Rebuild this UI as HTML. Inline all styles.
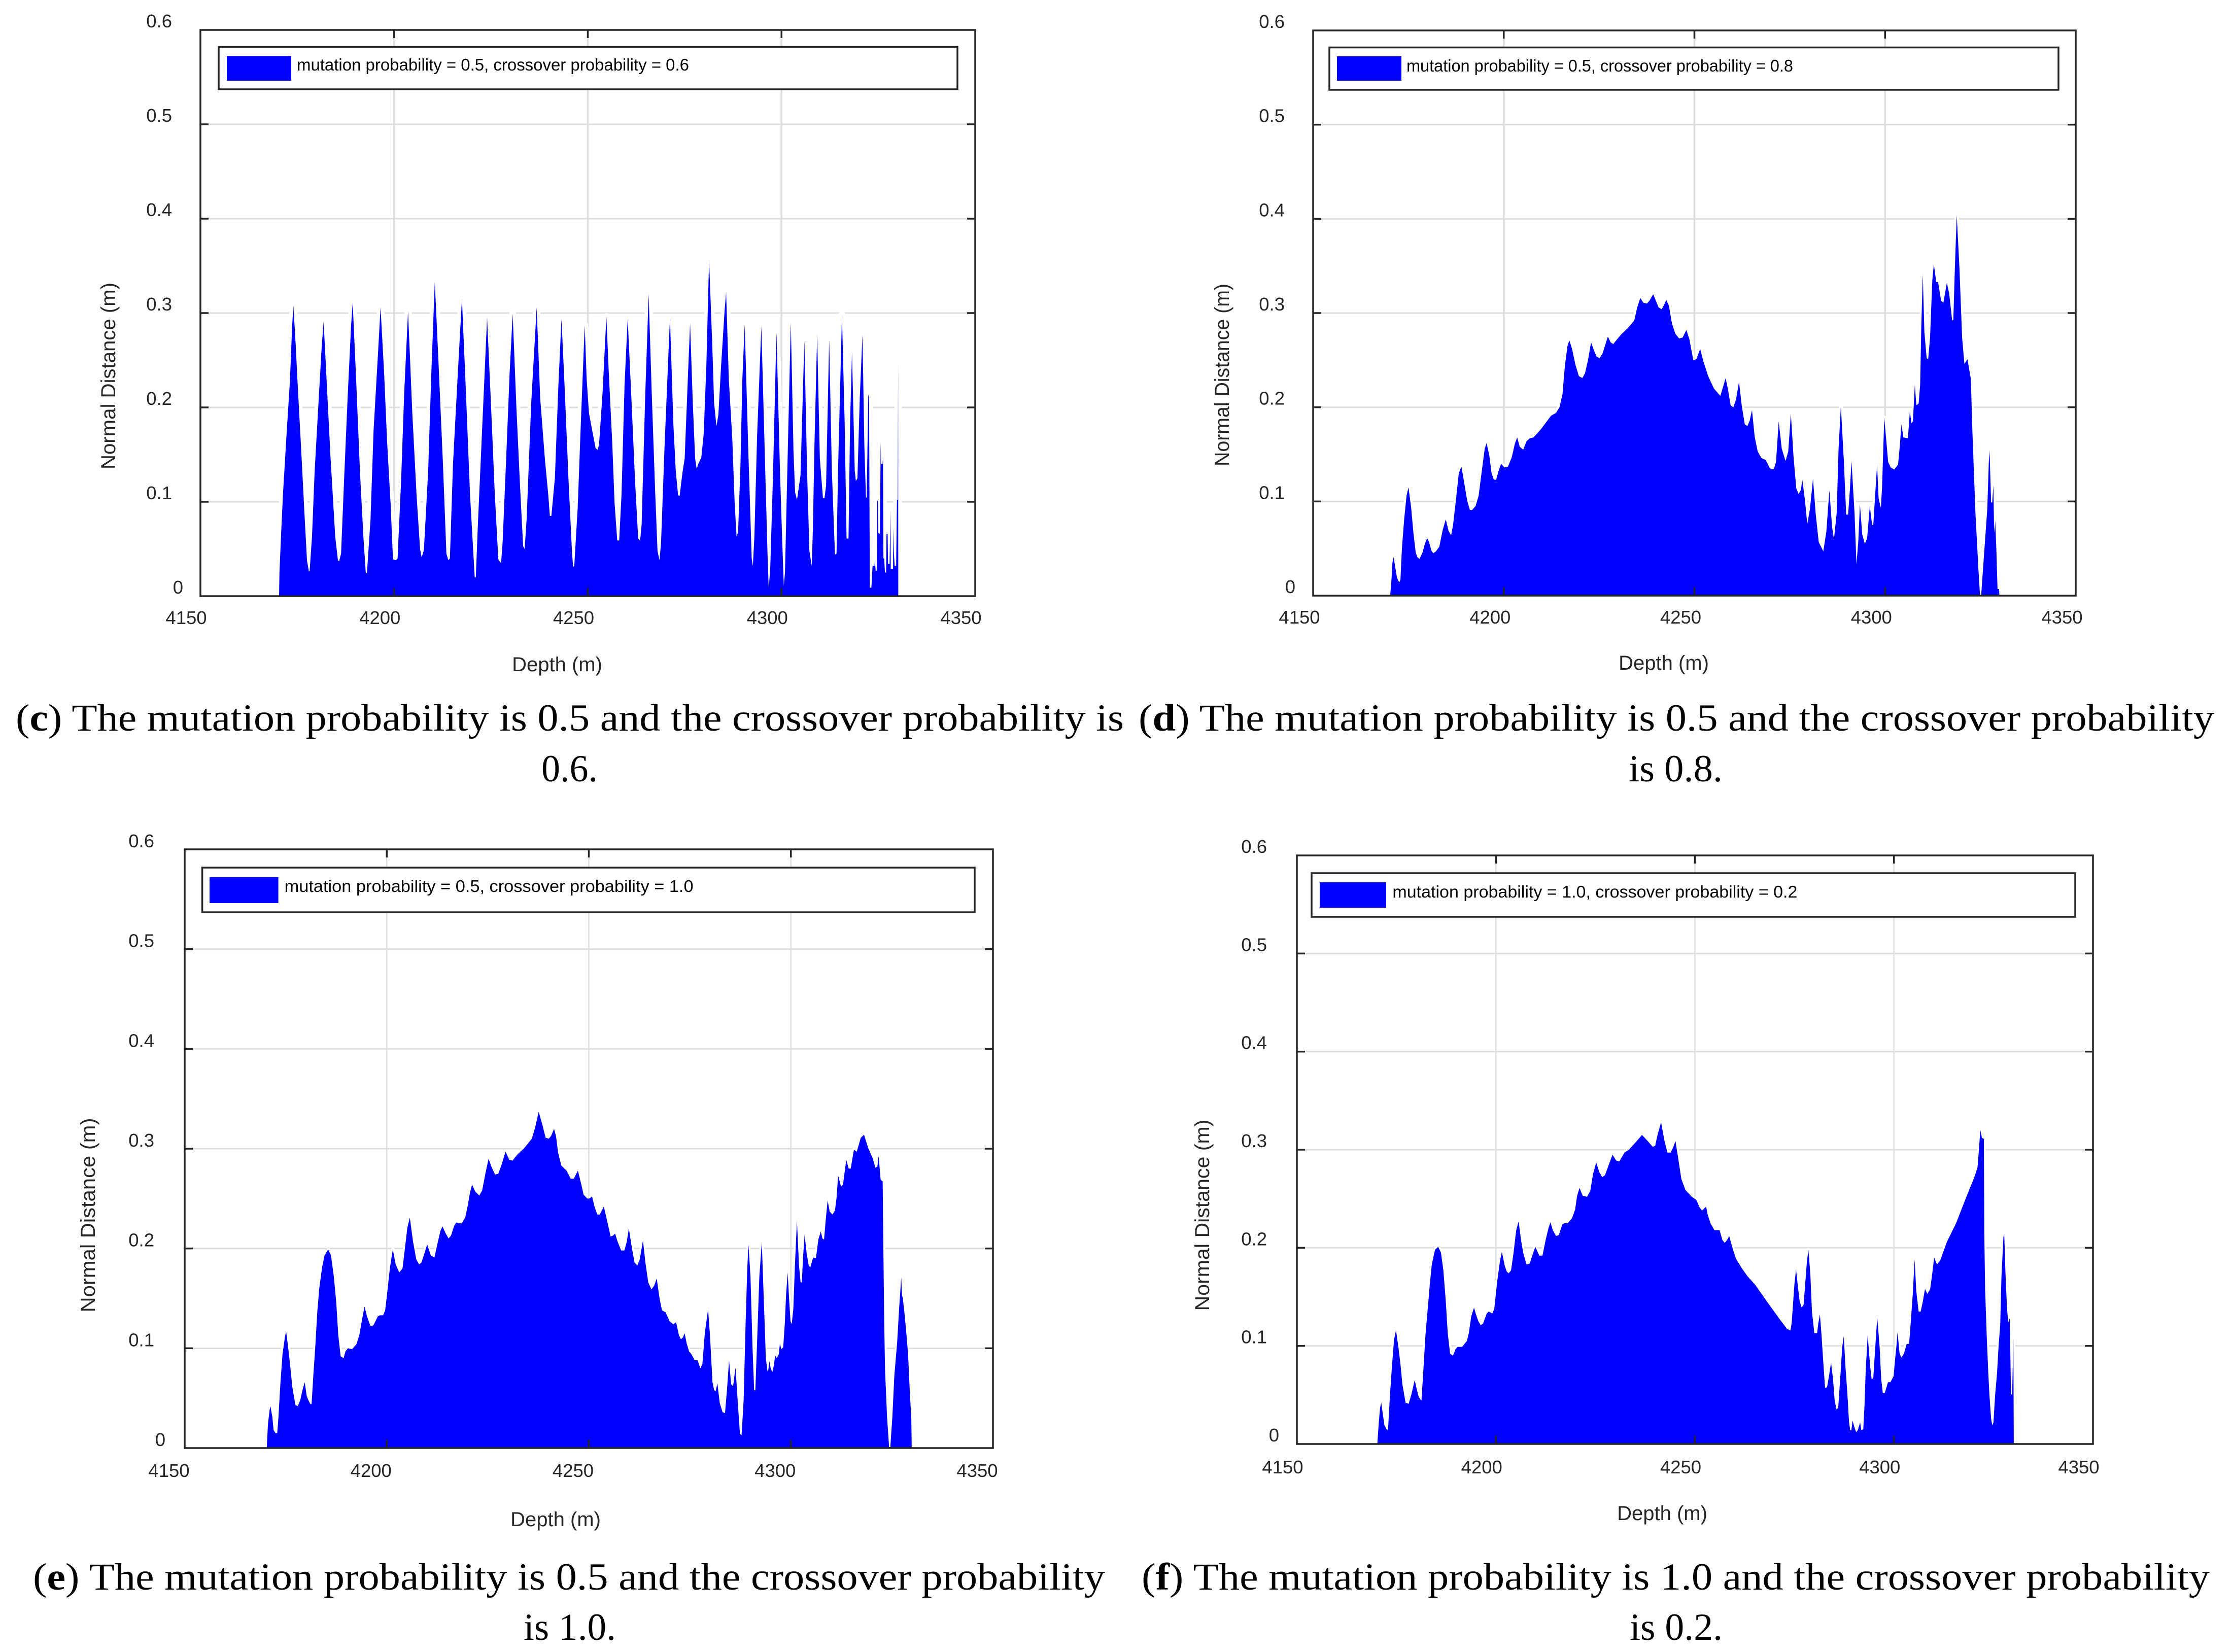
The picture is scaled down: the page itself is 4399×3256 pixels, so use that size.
<!DOCTYPE html>
<html lang="en">
<head>
<meta charset="utf-8">
<title>Normal distance vs depth for mutation and crossover probabilities</title>
<style>
html,body{margin:0;padding:0;background:#fff;}
svg{display:block;}
.tick{font-family:"Liberation Sans",Arial,sans-serif;font-size:36.5px;fill:#262626;}
.axis-title{font-family:"Liberation Sans",Arial,sans-serif;font-size:40px;fill:#262626;}
.legend-text{font-family:"Liberation Sans",Arial,sans-serif;font-size:33px;fill:#000;}
.caption{font-family:"Liberation Serif",serif;font-size:75px;fill:#000;}
.frame{fill:none;stroke:#262626;stroke-width:3.5;}
.legend-box{fill:#fff;stroke:#262626;stroke-width:3.5;}
</style>
</head>
<body>
<svg xmlns="http://www.w3.org/2000/svg" width="4399" height="3256" viewBox="0 0 4399 3256">
<rect x="0" y="0" width="4399" height="3256" fill="#fff"/>

<g id="panel-c">
  <g class="grid-layer"></g>
  <g class="area-layer"></g>
  <g>
    <rect class="legend-box" x="431" y="92.5" width="1456" height="83.5"/>
    <rect x="447" y="110.5" width="127" height="48.5" fill="#0000ff"/>
    <text class="legend-text" x="585" y="139" textLength="773" lengthAdjust="spacingAndGlyphs">mutation probability = 0.5, crossover probability = 0.6</text>
  </g>
  <g class="frame-layer"></g>
  <text class="axis-title" x="1098" y="1323" text-anchor="middle">Depth (m)</text>
  <text class="axis-title" transform="translate(227,741) rotate(-90)" text-anchor="middle" textLength="368" lengthAdjust="spacingAndGlyphs">Normal Distance (m)</text>
  <text class="caption" x="31" y="1440" textLength="2184" lengthAdjust="spacingAndGlyphs">(<tspan font-weight="bold">c</tspan>) The mutation probability is 0.5 and the crossover probability is</text>
  <text class="caption" x="1067" y="1540" textLength="111" lengthAdjust="spacingAndGlyphs">0.6.</text>
</g>

<g id="panel-d">
  <g class="grid-layer"></g>
  <g class="area-layer"></g>
  <g>
    <rect class="legend-box" x="2620" y="93.5" width="1437" height="83.5"/>
    <rect x="2635" y="111" width="127" height="48" fill="#0000ff"/>
    <text class="legend-text" x="2772" y="141" textLength="762" lengthAdjust="spacingAndGlyphs">mutation probability = 0.5, crossover probability = 0.8</text>
  </g>
  <g class="frame-layer"></g>
  <text class="axis-title" x="3279" y="1320" text-anchor="middle">Depth (m)</text>
  <text class="axis-title" transform="translate(2422,739) rotate(-90)" text-anchor="middle" textLength="360" lengthAdjust="spacingAndGlyphs">Normal Distance (m)</text>
  <text class="caption" x="2244" y="1440" textLength="2120" lengthAdjust="spacingAndGlyphs">(<tspan font-weight="bold">d</tspan>) The mutation probability is 0.5 and the crossover probability</text>
  <text class="caption" x="3210" y="1540" textLength="185" lengthAdjust="spacingAndGlyphs">is 0.8.</text>
</g>

<g id="panel-e">
  <g class="grid-layer"></g>
  <g class="area-layer"></g>
  <g>
    <rect class="legend-box" x="398.6" y="1710" width="1522.4" height="88"/>
    <rect x="413" y="1728.5" width="135.6" height="51.5" fill="#0000ff"/>
    <text class="legend-text" x="560.6" y="1758" textLength="806" lengthAdjust="spacingAndGlyphs">mutation probability = 0.5, crossover probability = 1.0</text>
  </g>
  <g class="frame-layer"></g>
  <text class="axis-title" x="1095" y="3008" text-anchor="middle">Depth (m)</text>
  <text class="axis-title" transform="translate(187,2395) rotate(-90)" text-anchor="middle" textLength="383" lengthAdjust="spacingAndGlyphs">Normal Distance (m)</text>
  <text class="caption" x="65" y="3133" textLength="2113" lengthAdjust="spacingAndGlyphs">(<tspan font-weight="bold">e</tspan>) The mutation probability is 0.5 and the crossover probability</text>
  <text class="caption" x="1032" y="3232" textLength="182" lengthAdjust="spacingAndGlyphs">is 1.0.</text>
</g>

<g id="panel-f">
  <g class="grid-layer"></g>
  <g class="area-layer"></g>
  <g>
    <rect class="legend-box" x="2585" y="1721" width="1505" height="86"/>
    <rect x="2601" y="1739" width="131" height="50" fill="#0000ff"/>
    <text class="legend-text" x="2744.4" y="1769" textLength="798" lengthAdjust="spacingAndGlyphs">mutation probability = 1.0, crossover probability = 0.2</text>
  </g>
  <g class="frame-layer"></g>
  <text class="axis-title" x="3276" y="2996" text-anchor="middle">Depth (m)</text>
  <text class="axis-title" transform="translate(2383,2395) rotate(-90)" text-anchor="middle" textLength="377" lengthAdjust="spacingAndGlyphs">Normal Distance (m)</text>
  <text class="caption" x="2250" y="3133" textLength="2105" lengthAdjust="spacingAndGlyphs">(<tspan font-weight="bold">f</tspan>) The mutation probability is 1.0 and the crossover probability</text>
  <text class="caption" x="3212" y="3232" textLength="183" lengthAdjust="spacingAndGlyphs">is 0.2.</text>
</g>
</svg>

<script>
const xTickValues = [4150, 4200, 4250, 4300, 4350];
const xTickLabels = ['4150', '4200', '4250', '4300', '4350'];
const yTickValues = [0, 0.1, 0.2, 0.3, 0.4, 0.5, 0.6];
const yTickLabels = ['0', '0.1', '0.2', '0.3', '0.4', '0.5', '0.6'];

const depthC = [4170.3,4170.4,4170.8,4171.3,4172.2,4173.1,4173.7,4174.0,4174.6,4175.1,4176.0,4176.9,4177.5,4178.0,4178.2,4178.8,4179.5,4180.4,4181.3,4181.8,4182.5,4183.6,4184.8,4185.5,4185.8,4186.3,4187.1,4188.0,4188.9,4189.3,4190.1,4191.2,4192.1,4192.7,4193.0,4193.9,4194.7,4195.9,4196.5,4197.4,4198.2,4199.1,4199.7,4200.5,4200.9,4201.8,4202.6,4203.6,4204.7,4205.8,4206.7,4207.1,4207.7,4208.8,4209.6,4210.5,4211.4,4212.6,4213.5,4214.0,4214.4,4215.2,4216.4,4217.5,4218.4,4219.6,4220.8,4221.1,4221.6,4222.8,4224.0,4225.1,4226.0,4226.9,4227.6,4228.0,4228.9,4229.8,4230.6,4231.6,4232.5,4233.3,4233.7,4234.2,4235.4,4236.8,4237.7,4238.9,4239.8,4240.2,4240.6,4241.5,4242.4,4243.2,4244.0,4245.0,4245.9,4246.2,4246.5,4247.4,4248.2,4249.2,4249.7,4250.3,4251.2,4252.0,4252.5,4252.9,4253.8,4254.8,4255.4,4256.3,4256.9,4257.6,4258.1,4258.7,4259.5,4260.3,4261.3,4262.2,4263.0,4263.5,4263.9,4264.8,4265.7,4266.5,4267.4,4268.0,4268.5,4268.9,4269.8,4271.2,4272.1,4272.7,4273.3,4273.7,4274.4,4275.0,4275.9,4276.4,4277.1,4277.7,4278.1,4278.5,4279.3,4279.9,4280.6,4281.3,4282.1,4282.6,4283.2,4283.7,4284.4,4285.3,4285.7,4286.4,4287.3,4287.9,4288.4,4288.8,4289.4,4289.9,4290.5,4291.4,4292.3,4292.6,4293.0,4293.7,4294.8,4295.8,4296.4,4296.7,4297.1,4297.8,4298.7,4299.6,4300.2,4300.6,4300.9,4301.6,4302.4,4303.1,4303.5,4304.0,4304.9,4305.9,4306.6,4307.2,4307.8,4308.1,4308.5,4309.2,4309.9,4310.7,4311.1,4311.5,4312.3,4313.0,4313.8,4314.2,4314.6,4315.6,4316.3,4316.8,4317.3,4317.7,4318.2,4318.9,4319.2,4319.6,4320.2,4320.9,4321.4,4321.8,4322.0,4322.4,4322.6,4322.8,4323.2,4323.5,4324.0,4324.1,4324.3,4324.6,4324.7,4324.9,4325.0,4325.4,4325.6,4325.7,4326.1,4326.2,4326.3,4326.5,4326.7,4327.0,4327.1,4327.4,4327.5,4327.9,4328.1,4328.2,4328.8,4328.85,4329.0,4329.2,4329.6,4329.8,4330.0,4330.1,4330.15];
const valueC = [0,.025,.063,.107,.169,.228,.287,.308,.266,.225,.156,.084,.038,.026,.027,.063,.133,.199,.264,.291,.235,.146,.063,.038,.037,.045,.125,.210,.287,.311,.238,.130,.061,.024,.025,.081,.176,.261,.306,.238,.163,.097,.039,.038,.040,.122,.215,.302,.194,.107,.050,.041,.049,.133,.235,.333,.253,.140,.045,.038,.040,.140,.233,.315,.230,.107,.020,.020,.074,.184,.295,.194,.107,.039,.035,.056,.143,.235,.299,.197,.117,.053,.050,.081,.205,.306,.210,.146,.107,.085,.085,.125,.223,.294,.223,.125,.048,.031,.032,.094,.184,.287,.230,.194,.174,.157,.155,.160,.215,.296,.238,.163,.099,.059,.059,.107,.225,.294,.205,.122,.061,.059,.076,.210,.320,.215,.110,.048,.038,.056,.158,.295,.181,.133,.107,.106,.130,.146,.238,.289,.205,.146,.135,.140,.147,.171,.243,.356,.269,.205,.180,.192,.243,.302,.322,.230,.166,.099,.063,.068,.138,.230,.288,.158,.040,.032,.063,.169,.286,.133,.043,.008,.030,.128,.280,.133,.056,.011,.025,.151,.290,.153,.110,.102,.128,.271,.133,.048,.032,.071,.158,.277,.146,.104,.104,.117,.272,.133,.044,.045,.133,.298,.184,.061,.061,.184,.259,.133,.122,.125,.210,.277,.158,.104,.105,.214,.210,.009,.009,.032,.032,.038,.027,.027,.101,.101,.067,.066,.163,.140,.140,.148,.040,.040,.025,.025,.066,.066,.034,.034,.092,.029,.029,.073,.047,.032,.032,.102,.102,.247,0];

const depthD = [4170.2,4170.5,4170.8,4171.1,4171.5,4172.0,4172.6,4172.9,4173.3,4173.9,4174.5,4175.0,4175.7,4176.3,4176.9,4177.3,4177.9,4178.7,4179.3,4179.9,4180.4,4181.0,4181.5,4182.2,4183.1,4184.0,4184.8,4185.5,4186.2,4186.7,4187.5,4188.2,4188.9,4189.7,4190.4,4191.1,4191.7,4192.6,4193.4,4194.1,4195.0,4195.5,4196.2,4196.8,4197.4,4198.0,4198.6,4199.3,4200.2,4201.1,4202.1,4202.9,4203.5,4204.2,4205.1,4206.0,4206.8,4207.8,4209.6,4211.1,4212.4,4213.7,4214.6,4215.4,4216.0,4216.7,4217.2,4217.9,4218.8,4219.7,4220.6,4221.3,4222.1,4222.9,4223.5,4224.3,4225.1,4225.9,4227.3,4228.0,4228.7,4229.5,4230.7,4232.5,4234.2,4235.0,4235.8,4236.6,4237.5,4238.2,4239.2,4239.9,4240.6,4241.4,4242.1,4242.6,4243.3,4244.1,4245.0,4246.0,4246.9,4247.9,4248.7,4249.7,4250.5,4251.5,4252.4,4253.6,4255.1,4256.8,4258.2,4258.8,4259.5,4260.2,4260.9,4261.7,4262.4,4263.2,4263.9,4264.5,4265.1,4265.8,4266.6,4267.6,4268.7,4269.8,4270.8,4271.4,4272.1,4272.9,4273.9,4274.6,4275.3,4276.0,4276.7,4277.3,4277.9,4278.3,4279.0,4279.6,4280.3,4281.1,4281.8,4282.6,4283.8,4284.6,4285.4,4286.1,4286.6,4287.3,4287.8,4288.4,4289.2,4289.8,4290.3,4290.8,4291.2,4292.0,4292.5,4293.0,4293.4,4294.0,4294.7,4295.3,4296.0,4296.6,4296.9,4297.9,4298.3,4298.9,4299.2,4299.8,4300.8,4301.5,4302.4,4303.4,4303.8,4304.3,4304.8,4306.0,4306.5,4306.9,4307.3,4307.8,4308.2,4308.8,4309.2,4309.5,4309.9,4310.3,4310.9,4311.3,4311.8,4312.4,4312.8,4313.4,4313.9,4314.7,4315.3,4316.2,4316.8,4317.6,4317.9,4318.3,4318.8,4319.5,4320.2,4320.8,4321.6,4322.5,4322.9,4323.7,4324.5,4324.9,4325.2,4326.0,4326.8,4327.2,4327.4,4327.7,4327.8,4328.1,4328.4,4328.6,4328.9,4329.2,4329.5,4329.9,4330.0];
const valueD = [0,.014,.035,.041,.031,.019,.014,.017,.051,.082,.106,.115,.094,.067,.046,.041,.039,.046,.055,.061,.057,.048,.045,.047,.052,.070,.081,.069,.064,.075,.103,.130,.137,.118,.101,.091,.091,.095,.106,.128,.156,.162,.149,.130,.123,.123,.132,.140,.136,.137,.147,.161,.168,.158,.155,.164,.167,.168,.176,.184,.191,.194,.200,.214,.243,.265,.271,.262,.245,.233,.231,.236,.250,.269,.262,.254,.252,.257,.275,.269,.267,.271,.277,.284,.292,.306,.316,.311,.310,.313,.320,.313,.306,.304,.309,.314,.308,.289,.278,.273,.274,.282,.272,.250,.251,.262,.248,.233,.220,.212,.231,.219,.202,.200,.208,.227,.202,.182,.180,.186,.197,.169,.153,.146,.144,.135,.134,.142,.185,.156,.143,.153,.193,.147,.114,.108,.112,.123,.101,.076,.092,.124,.087,.057,.047,.068,.112,.073,.060,.087,.156,.201,.142,.086,.086,.114,.143,.087,.033,.059,.097,.065,.055,.061,.095,.075,.075,.139,.103,.093,.114,.189,.142,.136,.134,.139,.156,.182,.168,.167,.196,.183,.185,.224,.202,.204,.224,.285,.341,.280,.252,.251,.274,.335,.352,.333,.333,.313,.311,.332,.321,.292,.293,.348,.404,.348,.274,.246,.251,.230,.175,.087,.026,0,0,.046,.092,.142,.154,.114,.099,.099,.117,.067,.079,.047,.007,.007,0];

const depthE = [4170.3,4170.6,4171.0,4171.2,4171.7,4172.0,4172.5,4172.9,4173.2,4173.7,4174.2,4174.8,4175.1,4175.6,4176.1,4176.6,4177.4,4178.0,4178.6,4179.2,4179.7,4180.2,4180.6,4181.1,4181.4,4181.8,4182.3,4182.8,4183.3,4184.0,4184.6,4185.5,4186.2,4186.9,4187.5,4188.0,4188.6,4189.3,4189.8,4190.4,4191.4,4192.5,4193.2,4193.9,4194.5,4195.1,4196.0,4196.7,4197.8,4198.3,4199.1,4199.6,4200.1,4200.8,4201.5,4202.2,4203.1,4203.9,4204.4,4205.1,4205.7,4206.5,4207.3,4208.0,4208.6,4209.4,4210.0,4210.9,4211.8,4212.5,4213.3,4213.8,4214.6,4215.3,4215.9,4216.7,4217.2,4218.5,4219.4,4220.0,4220.6,4221.1,4221.9,4222.9,4223.6,4224.5,4225.2,4225.9,4226.8,4227.6,4228.4,4229.4,4230.3,4231.1,4232.3,4234.1,4235.9,4236.7,4237.6,4238.5,4239.3,4240.1,4240.7,4241.4,4241.9,4242.4,4243.2,4244.5,4245.5,4246.3,4247.3,4248.2,4248.7,4249.6,4250.1,4250.8,4251.4,4252.1,4252.7,4253.7,4254.3,4254.9,4255.4,4256.0,4256.5,4257.1,4258.0,4258.8,4259.4,4259.9,4260.6,4261.3,4262.0,4262.6,4263.4,4264.0,4264.7,4265.5,4266.2,4266.8,4267.5,4268.1,4269.0,4270.0,4270.9,4271.6,4272.3,4272.8,4273.3,4273.7,4274.2,4274.8,4275.4,4276.2,4276.9,4277.6,4278.1,4278.7,4279.5,4280.0,4280.6,4281.0,4281.4,4281.8,4282.4,4283.1,4283.7,4284.2,4284.7,4285.2,4285.7,4286.3,4286.9,4287.4,4287.8,4288.3,4288.8,4289.2,4289.5,4290.0,4290.5,4290.9,4291.2,4291.7,4292.2,4292.8,4293.3,4293.8,4294.2,4294.4,4294.7,4295.0,4295.4,4295.8,4296.1,4296.5,4297.0,4297.3,4297.6,4298.1,4298.5,4298.8,4299.2,4299.5,4299.9,4300.2,4300.6,4301.0,4301.5,4302.0,4302.4,4302.7,4303.0,4303.4,4303.9,4304.4,4304.8,4305.5,4306.2,4306.8,4307.4,4307.8,4308.2,4308.7,4309.1,4309.6,4310.3,4310.9,4311.3,4311.7,4312.4,4312.9,4313.7,4314.3,4314.8,4315.6,4316.3,4317.3,4318.1,4319.1,4320.3,4320.9,4321.4,4321.7,4322.2,4322.7,4322.9,4323.1,4323.3,4323.8,4324.3,4324.6,4325.1,4325.6,4326.3,4326.8,4327.3,4327.5,4327.7,4328.1,4328.5,4329.0,4329.4,4329.8,4329.9];
const valueE = [0,.024,.038,.042,.031,.018,.015,.015,.031,.066,.094,.111,.117,.101,.083,.062,.043,.042,.048,.059,.066,.052,.048,.044,.044,.071,.101,.136,.160,.181,.193,.199,.193,.172,.146,.113,.092,.090,.097,.100,.099,.104,.113,.129,.142,.132,.122,.123,.132,.133,.133,.138,.155,.181,.199,.184,.176,.180,.197,.221,.231,.207,.189,.184,.186,.196,.204,.193,.191,.204,.218,.222,.215,.210,.213,.223,.226,.225,.231,.242,.256,.264,.257,.253,.258,.277,.290,.282,.274,.275,.284,.297,.289,.288,.294,.301,.310,.321,.337,.324,.311,.310,.313,.320,.312,.296,.283,.278,.270,.270,.278,.263,.254,.250,.250,.252,.242,.234,.234,.242,.232,.221,.212,.213,.215,.207,.198,.198,.207,.220,.202,.186,.183,.189,.208,.186,.166,.159,.163,.170,.150,.138,.136,.127,.124,.126,.113,.109,.111,.115,.105,.097,.094,.088,.088,.080,.084,.115,.139,.111,.066,.058,.057,.065,.045,.036,.035,.059,.088,.064,.062,.081,.043,.014,.013,.048,.125,.179,.204,.172,.101,.058,.058,.113,.172,.206,.148,.090,.077,.078,.087,.080,.076,.083,.093,.090,.094,.105,.099,.101,.125,.153,.176,.153,.127,.124,.139,.183,.228,.183,.166,.166,.190,.214,.195,.183,.181,.191,.190,.209,.217,.210,.209,.232,.248,.237,.234,.238,.251,.273,.262,.264,.289,.280,.280,.299,.297,.311,.314,.301,.290,.281,.282,.293,.269,.267,.195,.125,.078,.031,.001,.001,.031,.073,.106,.141,.171,.153,.150,.135,.118,.094,.059,.029,0];

const depthF = [4170.2,4170.6,4170.9,4171.2,4171.6,4172.0,4172.7,4172.9,4173.4,4173.9,4174.4,4174.9,4175.5,4176.0,4176.5,4177.3,4178.1,4178.8,4179.6,4180.1,4180.6,4181.3,4181.8,4182.3,4182.9,4183.4,4183.9,4184.7,4185.5,4186.2,4186.8,4187.4,4187.9,4188.5,4189.2,4189.9,4190.4,4191.5,4192.7,4193.2,4193.8,4194.5,4195.0,4195.6,4196.2,4196.8,4197.7,4198.2,4199.1,4199.6,4200.3,4201.0,4201.5,4202.2,4202.7,4203.2,4203.8,4204.4,4205.1,4205.7,4206.3,4206.9,4207.7,4208.5,4209.3,4209.9,4210.9,4211.7,4212.5,4213.2,4213.7,4214.3,4215.1,4215.8,4216.7,4217.2,4218.0,4219.1,4219.9,4220.4,4221.0,4221.8,4222.9,4223.7,4224.4,4225.2,4226.0,4226.7,4227.4,4228.3,4229.3,4230.2,4231.0,4232.3,4233.4,4235.2,4236.7,4238.1,4239.4,4240.0,4240.6,4241.5,4242.3,4243.1,4243.9,4244.6,4245.1,4245.8,4246.6,4247.6,4249.2,4250.3,4251.2,4251.8,4252.8,4253.2,4253.9,4254.9,4256.2,4256.9,4257.5,4258.1,4258.6,4259.5,4260.3,4261.8,4263.2,4265.2,4268.3,4271.5,4273.2,4274.0,4274.3,4274.7,4275.0,4275.4,4275.8,4276.3,4276.8,4277.3,4277.7,4278.1,4278.5,4279.0,4279.4,4280.0,4280.7,4281.0,4281.4,4281.8,4282.3,4282.7,4283.2,4283.7,4284.2,4284.7,4285.1,4285.6,4286.0,4286.6,4287.0,4287.4,4287.8,4288.3,4288.7,4289.0,4289.3,4289.6,4290.0,4290.5,4290.9,4291.5,4291.8,4292.3,4292.6,4292.9,4293.4,4294.0,4294.4,4294.8,4295.2,4295.8,4296.4,4296.8,4297.2,4297.7,4298.5,4299.1,4299.9,4300.3,4300.6,4300.9,4301.4,4301.8,4302.5,4303.2,4303.8,4304.2,4304.7,4305.2,4305.6,4306.2,4306.7,4307.2,4307.8,4308.4,4309.1,4309.6,4310.1,4310.8,4311.6,4313.3,4315.6,4317.9,4320.2,4321.0,4321.4,4321.7,4322.1,4322.6,4322.7,4322.9,4323.3,4323.7,4324.0,4324.4,4324.7,4325.0,4325.4,4325.9,4326.3,4326.7,4327.0,4327.5,4327.7,4328.0,4328.4,4328.7,4329.1,4329.4,4329.7,4330.0,4330.1];
const valueF = [0,.023,.037,.042,.030,.019,.014,.015,.051,.080,.106,.116,.099,.082,.061,.042,.041,.051,.065,.056,.048,.044,.077,.111,.139,.163,.183,.198,.201,.195,.177,.146,.113,.092,.090,.097,.099,.099,.105,.113,.130,.139,.132,.125,.121,.123,.133,.135,.133,.138,.165,.186,.196,.182,.176,.174,.177,.194,.218,.227,.208,.194,.183,.184,.194,.201,.192,.192,.208,.220,.226,.218,.212,.213,.224,.225,.225,.230,.239,.253,.261,.253,.252,.258,.275,.287,.277,.272,.274,.284,.295,.289,.288,.297,.300,.308,.315,.309,.303,.304,.315,.328,.310,.297,.297,.303,.309,.291,.270,.259,.252,.249,.241,.238,.242,.234,.225,.218,.218,.208,.205,.208,.212,.199,.189,.179,.171,.162,.144,.126,.117,.116,.123,.146,.163,.178,.163,.146,.139,.142,.163,.184,.198,.173,.135,.113,.113,.123,.132,.111,.080,.057,.058,.070,.083,.066,.044,.035,.037,.073,.099,.110,.080,.051,.023,.014,.014,.024,.018,.012,.014,.022,.014,.015,.039,.075,.111,.080,.066,.067,.092,.129,.099,.066,.052,.052,.063,.063,.069,.087,.099,.114,.093,.088,.092,.102,.102,.123,.151,.188,.156,.135,.135,.144,.158,.153,.158,.173,.190,.183,.187,.206,.225,.249,.272,.282,.303,.320,.312,.311,.215,.158,.111,.072,.049,.026,.019,.022,.049,.072,.101,.121,.170,.211,.214,.176,.139,.124,.128,.051,.050,.108,0];

const SVG_NS = 'http://www.w3.org/2000/svg';

const panelC = { key: 'c', depths: depthC, values: valueC, left: 395, right: 1922, top: 59, bottom: 1175, halo: 14, vGrid: 3.5 };
const panelD = { key: 'd', depths: depthD, values: valueD, left: 2588, right: 4091, top: 60, bottom: 1174, halo: 8, vGrid: 3.5 };
const panelE = { key: 'e', depths: depthE, values: valueE, left: 364, right: 1957, top: 1674, bottom: 2854, halo: 7, vGrid: 2.5 };
const panelF = { key: 'f', depths: depthF, values: valueF, left: 2556, right: 4125, top: 1686, bottom: 2846, halo: 7, vGrid: 2.5 };

const labelOffsetsC = { yMajor: 56, yZero: 34, yUp: 18, xLeft: 28, xDown: 42 };
const labelOffsetsD = { yMajor: 56, yZero: 35, yUp: 18, xLeft: 27, xDown: 42 };
const labelOffsetsE = { yMajor: 60, yZero: 38, yUp: 17, xLeft: 31, xDown: 44 };
const labelOffsetsF = { yMajor: 59, yZero: 35, yUp: 18, xLeft: 28, xDown: 45 };

function newEl(tag) {
  return document.createElementNS(SVG_NS, tag);
}

function setAttrs(el, attrs) {
  Object.keys(attrs).forEach(function (k) { el.setAttribute(k, attrs[k]); });
  return el;
}

function drawPanel(p, off) {
  const root = document.getElementById('panel-' + p.key);
  const gridLayer = root.querySelector('.grid-layer');
  const areaLayer = root.querySelector('.area-layer');
  const frameLayer = root.querySelector('.frame-layer');

  const xScale = function (d) {
    return p.left + (d - xTickValues[0]) / (xTickValues[xTickValues.length - 1] - xTickValues[0]) * (p.right - p.left);
  };
  const yScale = function (v) {
    return p.bottom - (v - yTickValues[0]) / (yTickValues[yTickValues.length - 1] - yTickValues[0]) * (p.bottom - p.top);
  };

  xTickValues.forEach(function (tv, i) {
    const x = xScale(tv);
    if (i > 0 && i < xTickValues.length - 1) {
      const g = setAttrs(newEl('line'), { x1: x, x2: x, y1: p.top, y2: p.bottom, stroke: '#dedede', 'stroke-width': p.vGrid });
      
      
      gridLayer.appendChild(g);
      [[p.bottom, p.bottom - 16], [p.top, p.top + 16]].forEach(function (ends) {
        const t = setAttrs(newEl('line'), { x1: x, x2: x, y1: ends[0], y2: ends[1], stroke: '#262626', 'stroke-width': 3.5 });
        
        
        frameLayer.appendChild(t);
      });
    }
    const label = setAttrs(newEl('text'), { x: x - off.xLeft, y: p.bottom + off.xDown + 13, 'text-anchor': 'middle', class: 'tick' });
    label.textContent = xTickLabels[i];
    
    
    frameLayer.appendChild(label);
  });

  yTickValues.forEach(function (tv, i) {
    const y = yScale(tv);
    if (i > 0 && i < yTickValues.length - 1) {
      const g = setAttrs(newEl('line'), { x1: p.left, x2: p.right, y1: y, y2: y, stroke: '#dedede', 'stroke-width': 3 });
      
      
      gridLayer.appendChild(g);
      [[p.left, p.left + 16], [p.right, p.right - 16]].forEach(function (ends) {
        const t = setAttrs(newEl('line'), { x1: ends[0], x2: ends[1], y1: y, y2: y, stroke: '#262626', 'stroke-width': 3.5 });
        
        
        frameLayer.appendChild(t);
      });
    }
    const inset = tv === 0 ? off.yZero : off.yMajor;
    const label = setAttrs(newEl('text'), { x: p.left - inset, y: y - off.yUp + 13, 'text-anchor': 'end', class: 'tick' });
    label.textContent = yTickLabels[i];
    
    
    frameLayer.appendChild(label);
  });

  const n = Math.min(p.depths.length, p.values.length);
  let d = 'M' + xScale(p.depths[0]).toFixed(1) + ' ' + yScale(0).toFixed(1);
  for (let i = 0; i < n; i++) {
    d += 'L' + xScale(p.depths[i]).toFixed(1) + ' ' + yScale(p.values[i]).toFixed(1);
  }
  d += 'L' + xScale(p.depths[n - 1]).toFixed(1) + ' ' + yScale(0).toFixed(1) + 'Z';

  const halo = setAttrs(newEl('path'), { d: d, fill: '#fff', stroke: '#fff', 'stroke-width': p.halo, 'stroke-linejoin': 'round' });
  
  
  areaLayer.appendChild(halo);

  const area = setAttrs(newEl('path'), { d: d, fill: '#0000ff', stroke: 'none' });
  
  
  areaLayer.appendChild(area);

  const frame = setAttrs(newEl('rect'), { x: p.left, y: p.top, width: p.right - p.left, height: p.bottom - p.top, class: 'frame' });
  
  
  frameLayer.appendChild(frame);
}

drawPanel(panelC, labelOffsetsC);
drawPanel(panelD, labelOffsetsD);
drawPanel(panelE, labelOffsetsE);
drawPanel(panelF, labelOffsetsF);
</script>
</body>
</html>
